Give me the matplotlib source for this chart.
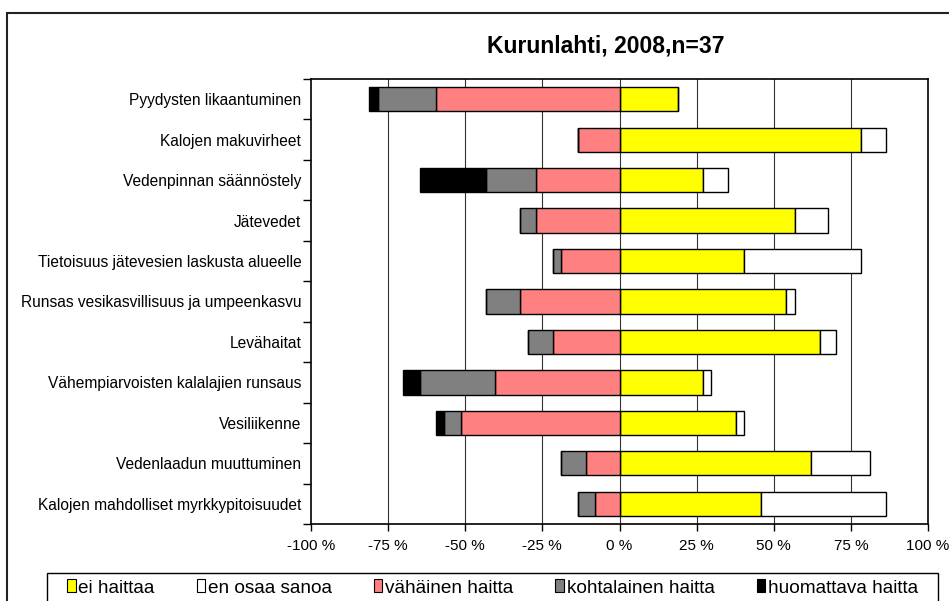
import matplotlib
matplotlib.use("Agg")
import matplotlib.pyplot as plt
from matplotlib.patches import Patch, Rectangle
import numpy as np

plt.rcParams["font.family"] = ["Liberation Sans", "DejaVu Sans"]

categories = [
    "Pyydysten likaantuminen",
    "Kalojen makuvirheet",
    "Vedenpinnan säännöstely",
    "Jätevedet",
    "Tietoisuus jätevesien laskusta alueelle",
    "Runsas vesikasvillisuus ja umpeenkasvu",
    "Levähaitat",
    "Vähempiarvoisten kalalajien runsaus",
    "Vesiliikenne",
    "Vedenlaadun muuttuminen",
    "Kalojen mahdolliset myrkkypitoisuudet",
]
# percentages (n=37)
ei_haittaa = [18.9, 78.4, 27.0, 56.8, 40.5, 54.1, 64.9, 27.0, 37.8, 62.2, 45.9]
en_osaa    = [0.0, 8.1, 8.1, 10.8, 37.8, 2.7, 5.4, 2.7, 2.7, 18.9, 40.5]
vahainen   = [59.5, 13.5, 27.0, 27.0, 18.9, 32.4, 21.6, 40.5, 51.4, 10.8, 8.1]
kohtalainen = [18.9, 0.0, 16.2, 5.4, 2.7, 10.8, 8.1, 24.3, 5.4, 8.1, 5.4]
huomattava = [2.7, 0.0, 21.6, 0.0, 0.0, 0.0, 0.0, 5.4, 2.7, 0.0, 0.0]

labels = ["ei haittaa", "en osaa sanoa", "vähäinen haitta", "kohtalainen haitta", "huomattava haitta"]
colors = ["#FFFF00", "#FFFFFF", "#FF8080", "#808080", "#000000"]

fig = plt.figure(figsize=(9.49, 6.01), dpi=100)
ax = fig.add_axes([311 / 949, 1 - 524 / 601, 617 / 949, 445 / 601])

y = np.arange(len(categories))
h = 0.6
kw = dict(height=h, edgecolor="black", linewidth=1.0, zorder=3)

ei = np.array(ei_haittaa)
ax.barh(y, ei, left=0, color=colors[0], **kw)
ax.barh(y, en_osaa, left=ei, color=colors[1], **kw)
v = np.array(vahainen)
k = np.array(kohtalainen)
ax.barh(y, -v, left=0, color=colors[2], **kw)
ax.barh(y, -k, left=-v, color=colors[3], **kw)
ax.barh(y, -np.array(huomattava), left=-v - k, color=colors[4], **kw)

ax.set_xlim(-100, 100)
ax.set_ylim(len(categories) - 0.5, -0.5)
xt = [-100, -75, -50, -25, 0, 25, 50, 75, 100]
ax.set_xticks(xt)
ax.set_xticklabels([f"{t} %" for t in xt], fontsize=11)
ax.tick_params(axis="x", direction="out", length=5, width=1, pad=6)
for t in xt[1:-1]:
    ax.axvline(t, color="#333333", linewidth=0.8, zorder=1)

ax.set_yticks(np.arange(len(categories) + 1) - 0.5)
ax.set_yticklabels([])
ax.set_yticks(y, minor=True)
ax.set_yticklabels(categories, minor=True, fontsize=11.2)
ax.tick_params(axis="y", which="major", direction="out", length=6, width=1)
ax.tick_params(axis="y", which="minor", length=0, pad=7)
for s in ax.spines.values():
    s.set_linewidth(1.2)

fig.text(606 / 949, 1 - 46 / 601, "Kurunlahti, 2008,n=37", fontsize=16.5,
         fontweight="bold", ha="center", va="center")

# legend box drawn separately (it runs off the bottom edge in the original)
fig.patches.append(Rectangle((47 / 949, -0.1), (938 - 47) / 949, 0.1 + 1 - 573 / 601,
                             transform=fig.transFigure, fill=False,
                             edgecolor="black", linewidth=1.0))
handles = [Patch(facecolor=c, edgecolor="black", linewidth=0.8, label=l)
           for c, l in zip(colors, labels)]
fig.legend(handles=handles, loc="center left", ncol=5, fontsize=13.7,
           bbox_to_anchor=(67 / 949, 1 - 588 / 601), frameon=False,
           handlelength=0.45, handleheight=0.65, handletextpad=0.15,
           columnspacing=2.2, borderpad=0, borderaxespad=0)

fig.patches.append(Rectangle((6.5 / 949, -0.1), 1.0, 1.1 - 13 / 601,
                             transform=fig.transFigure, fill=False,
                             edgecolor="#222222", linewidth=1.5))

fig.savefig("out.png", dpi=100)
